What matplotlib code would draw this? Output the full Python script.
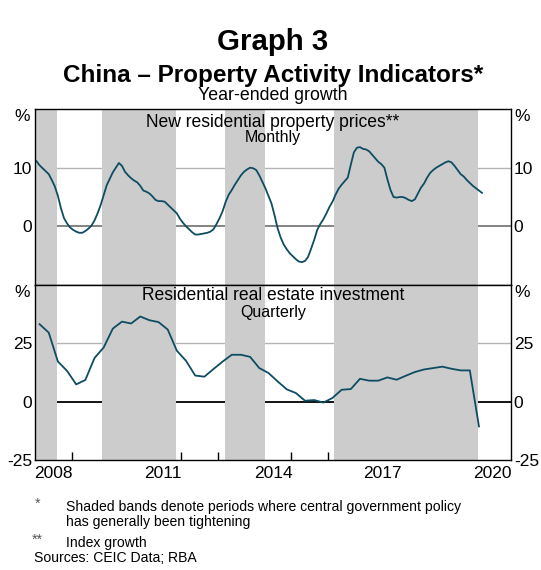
import numpy as np
import matplotlib
matplotlib.use('Agg')
import matplotlib.pyplot as plt

plt.rcParams['font.family'] = ['Liberation Sans', 'DejaVu Sans']
plt.rcParams['axes.unicode_minus'] = False

# tightening periods (decimal years)
bands = [(2008.0, 2008.59), (2009.84, 2011.84), (2013.19, 2014.28), (2016.17, 2020.1)]

# new residential property prices, monthly, Jan 2008 - Mar 2020
prices = [
    11.1, 10.4, 9.9, 9.4, 8.9, 7.9, 6.8, 5.2, 3.1, 1.4, 0.5, -0.2,     # 2008
    -0.6, -0.9, -1.1, -1.1, -0.8, -0.4, 0.1, 1.0, 2.2, 3.6, 5.3, 7.0,  # 2009
    8.1, 9.2, 10.0, 10.8, 10.3, 9.3, 8.7, 8.2, 7.8, 7.5, 6.9, 6.1,     # 2010
    5.9, 5.6, 5.1, 4.5, 4.3, 4.3, 4.2, 3.7, 3.2, 2.7, 2.2, 1.3,        # 2011
    0.6, 0.0, -0.5, -1.0, -1.4, -1.4, -1.3, -1.2, -1.1, -0.9, -0.5, 0.4,  # 2012
    1.4, 2.6, 4.2, 5.4, 6.2, 7.1, 7.9, 8.7, 9.3, 9.7, 10.0, 9.9,       # 2013
    9.6, 8.7, 7.6, 6.5, 5.2, 3.9, 1.9, -0.3, -1.9, -3.1, -3.9, -4.6,   # 2014
    -5.1, -5.6, -6.0, -6.1, -5.9, -5.2, -3.8, -2.3, -0.6, 0.4, 1.2, 2.2,  # 2015
    3.3, 4.2, 5.4, 6.4, 7.1, 7.7, 8.3, 10.5, 12.6, 13.4, 13.5, 13.2,   # 2016
    13.1, 12.8, 12.2, 11.6, 11.0, 10.6, 10.0, 8.0, 6.2, 5.0, 4.9, 5.0,  # 2017
    5.0, 4.8, 4.5, 4.3, 4.6, 5.6, 6.6, 7.3, 8.3, 9.1, 9.6, 10.0,       # 2018
    10.3, 10.6, 10.9, 11.1, 10.9, 10.3, 9.6, 8.9, 8.5, 7.9, 7.4, 6.9,  # 2019
    6.5, 6.1, 5.7,                                                      # 2020
]

# residential real estate investment, quarterly, Q1 2008 - Q1 2020
investment = [
    33.2, 29.6, 17.2, 13.2,
    7.4, 9.3, 18.7, 23.2,
    31.3, 34.3, 33.5, 36.5,
    34.9, 34.1, 30.9, 21.8,
    17.5, 11.2, 10.7, 14.0,
    17.2, 20.1, 20.1, 19.2,
    14.4, 12.3, 8.7, 5.3,
    3.7, 0.4, 0.7, -0.4,
    1.6, 5.1, 5.4, 9.8,
    9.0, 9.0, 10.4, 9.4,
    11.1, 12.7, 13.8, 14.4,
    15.0, 14.1, 13.4, 13.4,
    -10.6,
]

year_labels = ['2008', '2011', '2014', '2017', '2020']

t_m = 2008 + (np.arange(len(prices)) + 0.5) / 12
t_q = 2008 + (np.arange(len(investment)) * 3 + 1.5) / 12

line_col = '#0e4c63'
band_col = '#cccccc'
tick_fs = 12.5

fig = plt.figure(figsize=(5.41, 5.70), dpi=100)
W, H = 541, 570
left, right = 35, 511
xc = (left + right) / 2 / W
ax1 = fig.add_axes([left / W, 1 - 285 / H, (right - left) / W, 176 / H])
ax2 = fig.add_axes([left / W, 1 - 460 / H, (right - left) / W, 175 / H])

panels = [
    (ax1, t_m, prices, (-10, 20), [0, 10], '#7a7a7a',
     'New residential property prices**', 'Monthly', 0.90, 0.815),
    (ax2, t_q, investment, (-25, 50), [-25, 0, 25], 'black',
     'Residential real estate investment', 'Quarterly', 0.912, 0.82),
]

for ax, t, y, ylim, ticks, zcol, title, sub, ty, sy in panels:
    ax.set_xlim(2008, 2021)
    ax.set_ylim(*ylim)
    for v in ticks:
        if v == 0:
            ax.axhline(0, color=zcol, lw=1.3, zorder=1)
        elif v != ylim[0]:
            ax.axhline(v, color='#b4b4b4', lw=1.0, zorder=1)
    for a, b in bands:
        ax.axvspan(a, b, color=band_col, lw=0, zorder=2)
    ax.plot(t, y, color=line_col, lw=1.3, zorder=3)
    ax.set_yticks(ticks)
    ax.tick_params(axis='y', length=0, labelsize=tick_fs, pad=2,
                   labelleft=True, labelright=True)
    for s in ax.spines.values():
        s.set_linewidth(1.0)
        s.set_zorder(4)
    ax.text(0.5, ty, title, transform=ax.transAxes, ha='center',
            va='baseline', fontsize=12.65, zorder=5)
    ax.text(0.5, sy, sub, transform=ax.transAxes, ha='center',
            va='baseline', fontsize=11.5, zorder=5)
    ax.text(-0.027, 0.955, '%', transform=ax.transAxes, ha='center',
            va='center', fontsize=tick_fs)
    ax.text(1.024, 0.955, '%', transform=ax.transAxes, ha='center',
            va='center', fontsize=tick_fs)

ax1.set_xticks([])
ax2.set_xticks(np.arange(2009, 2021))
ax2.set_xticks(np.arange(2008, 2021, 3) + 0.5, minor=True)
ax2.set_xticklabels(year_labels, minor=True)
ax2.set_xticklabels([])
ax2.tick_params(axis='x', which='major', direction='in', length=6, width=1)
ax2.tick_params(axis='x', which='minor', length=0, labelsize=tick_fs, pad=4)

fig.text(xc, 1 - 50 / H, 'Graph 3', ha='center', va='baseline',
         fontsize=21.2, fontweight='bold')
fig.text(xc, 1 - 82 / H, 'China \u2013 Property Activity Indicators*',
         ha='center', va='baseline', fontsize=17.5, fontweight='bold')
fig.text(xc, 1 - 100.5 / H, 'Year-ended growth', ha='center',
         va='baseline', fontsize=12.8)

fn = 10.1
fig.text(37.7 / W, 1 - 508 / H, '*', fontsize=fn, va='baseline', ha='center',
         color='#555555')
fig.text(65.7 / W, 1 - 511.5 / H, 'Shaded bands denote periods where central government policy',
         fontsize=fn, va='baseline')
fig.text(65.7 / W, 1 - 526 / H, 'has generally been tightening',
         fontsize=fn, va='baseline')
fig.text(37.7 / W, 1 - 544 / H, '**', fontsize=fn, va='baseline', ha='center',
         color='#555555')
fig.text(65.7 / W, 1 - 547.5 / H, 'Index growth', fontsize=fn, va='baseline')
fig.text(33.5 / W, 1 - 562 / H, 'Sources: CEIC Data; RBA', fontsize=fn,
         va='baseline')

fig.savefig('out.png', dpi=100)
